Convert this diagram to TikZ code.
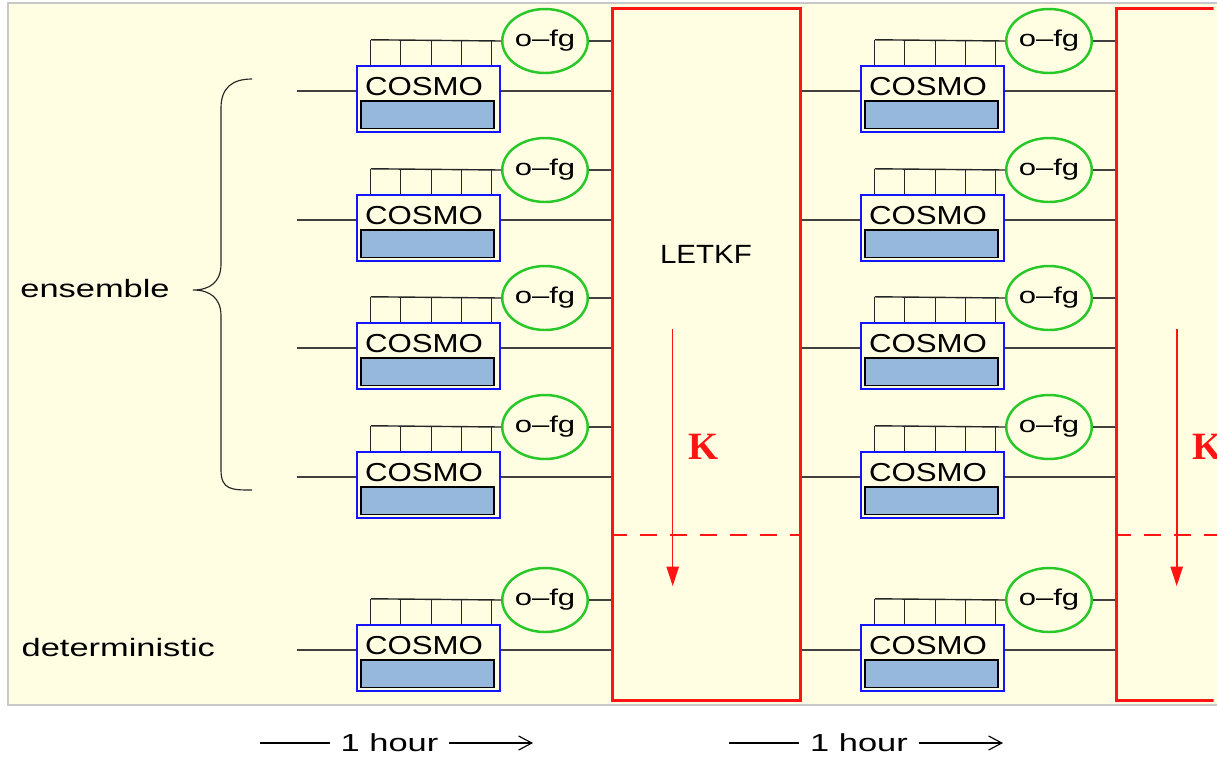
\documentclass[tikz,border=0pt]{standalone}
\usepackage{fontspec}
\setmainfont{Liberation Sans}
\newfontfamily\kfont{Liberation Serif}
\usepackage{graphicx}
\usetikzlibrary{arrows.meta,calc,shapes.geometric}
\definecolor{Crema}{RGB}{255,253,226}
\definecolor{BordeGris}{RGB}{200,200,200}
\definecolor{RojoLetkf}{RGB}{255,20,20}
\definecolor{AzulCosmo}{RGB}{20,20,255}
\definecolor{RellenoCosmo}{RGB}{149,184,220}
\definecolor{VerdeObs}{RGB}{40,200,40}
\newcommand{\anchotxt}[2]{\scalebox{#1}[1]{#2}}

\begin{document}
\begin{tikzpicture}[x=0.02cm,y=-0.02cm,>=Latex,
  cosmobox/.style={draw=AzulCosmo,line width=1.4pt,minimum width=2.86cm,minimum height=1.32cm,inner sep=0pt},
  cosmofill/.style={draw=black,fill=RellenoCosmo,line width=1pt,minimum width=2.66cm,minimum height=0.55cm,inner sep=0pt},
  cosmotxt/.style={inner sep=0pt,font=\fontsize{14.8pt}{16pt}\selectfont},
  ofg/.style={ellipse,draw=VerdeObs,line width=1.4pt,minimum width=1.51cm,minimum height=1.28cm,inner sep=0pt,font=\fontsize{13pt}{14pt}\selectfont},
  letkfbox/.style={draw=RojoLetkf,line width=1.7pt,minimum width=3.78cm,minimum height=13.86cm,inner sep=0pt},
  letkftxt/.style={inner sep=0pt,font=\fontsize{15pt}{17pt}\selectfont},
  lbl/.style={inner sep=0pt,font=\fontsize{14.3pt}{16pt}\selectfont},
  hora/.style={inner ysep=0pt,inner xsep=6pt,font=\fontsize{14pt}{15pt}\selectfont},
  klbl/.style={inner sep=0pt,text=RojoLetkf,font=\kfont\bfseries\fontsize{22pt}{24pt}\selectfont},
  wire/.style={black!75,line width=0.8pt},
  comb/.style={black!85,line width=0.8pt},
  kflecha/.style={RojoLetkf,line width=0.9pt,-{Triangle[length=11pt,width=7pt]}},
  kcorte/.style={RojoLetkf,line width=1.1pt,dash pattern=on 9.5pt off 7.5pt},
  llave/.style={black!85,line width=0.65pt}]
  \useasboundingbox (0,0) rectangle (1217,762);
  \clip (0,0) rectangle (1217,762);
  \fill[white] (0,0) rectangle (1217,762);
  \fill[Crema] (8,3) rectangle (1217,705);
  \draw[BordeGris,line width=1.2pt] (1217,3) -- (8,3) -- (8,705) -- (1217,705);

  \node[letkfbox] (letkf-1) at (706.5,354.5) {};
  \begin{scope}
    \clip (1100,0) rectangle (1213.5,762);
    \node[letkfbox] (letkf-2) at (1210.5,354.5) {};
  \end{scope}
  \node[letkftxt] (letkf-lbl) at (706,254.5) {\anchotxt{1.12}{LETKF}};

  \foreach \r/\y in {1/91,2/220,3/348,4/477,5/650} {
    \coordinate (ln-\r) at (297,\y);
    \foreach \c/\dx in {1/0,2/504} {
      \node[cosmobox] (cosmo-\c-\r) at (428.5+\dx,\y+8) {};
      \node[cosmofill] (fill-\c-\r) at (427.5+\dx,\y+23.8) {};
      \node[cosmotxt] (txt-\c-\r) at (424+\dx,\y-4) {\anchotxt{1.2}{COSMO}};
      \node[ofg] (ofg-\c-\r) at (545+\dx,\y-50) {\anchotxt{1.36}{o--fg}};
      \foreach \k in {15,45,76,106,136}
        \draw[comb] ($(cosmo-\c-\r.north west)+(\k,0)$) -- ++(0,-25);
      \draw[comb] ($(cosmo-\c-\r.north west)+(15,-25)$) -- (ofg-\c-\r.west);
      \draw[wire] (ofg-\c-\r.east) -- (ofg-\c-\r.east -| letkf-\c.west);
      \draw[wire] (cosmo-\c-\r.east |- ln-\r) -- (letkf-\c.west |- ln-\r);
    }
    \draw[wire] (ln-\r) -- (cosmo-1-\r.west |- ln-\r);
    \draw[wire] (letkf-1.east |- ln-\r) -- (cosmo-2-\r.west |- ln-\r);
  }

  \coordinate (corte) at (0,535);
  \coordinate (corte-fin) at (1217,535);
  \draw[kcorte] (letkf-1.west |- corte) -- (letkf-1.east |- corte);
  \draw[kcorte] (letkf-2.west |- corte) -- (corte-fin);
  \coordinate (ka-1) at (672.7,329);
  \coordinate (kb-1) at (672.7,586);
  \coordinate (ka-2) at (1176.7,329);
  \coordinate (kb-2) at (1176.7,586);
  \draw[kflecha] (ka-1) -- (kb-1);
  \draw[kflecha] (ka-2) -- (kb-2);
  \node[klbl] (k-1) at (704,447) {K};
  \node[klbl] (k-2) at (1208,447) {K};

  \draw[llave] (252,79) .. controls (232,79) and (221,88) .. (221,108) -- (221,264)
    .. controls (221,282) and (210,290) .. (193,290)
    .. controls (210,290) and (221,298) .. (221,316) -- (221,470)
    .. controls (221,490) and (232,490) .. (252,490);
  \node[lbl] (ensemble) at (95,289) {\anchotxt{1.37}{ensemble}};
  \node[lbl] (deterministic) at (118.3,647.5) {\anchotxt{1.37}{deterministic}};

  \node[hora] (hora-1) at (389.5,743) {\anchotxt{1.4}{1 hour}};
  \node[hora] (hora-2) at (859,743) {\anchotxt{1.4}{1 hour}};
  \coordinate (h1a) at (260,743);
  \coordinate (h1b) at (533,743);
  \coordinate (h2a) at (729,743);
  \coordinate (h2b) at (1003,743);
  \draw[line width=0.65pt] (h1a) -- (hora-1.west);
  \draw[line width=0.65pt,-{Straight Barb[length=7.5pt,width=8pt]}] (hora-1.east) -- (h1b);
  \draw[line width=0.65pt] (h2a) -- (hora-2.west);
  \draw[line width=0.65pt,-{Straight Barb[length=7.5pt,width=8pt]}] (hora-2.east) -- (h2b);
\end{tikzpicture}
\end{document}
